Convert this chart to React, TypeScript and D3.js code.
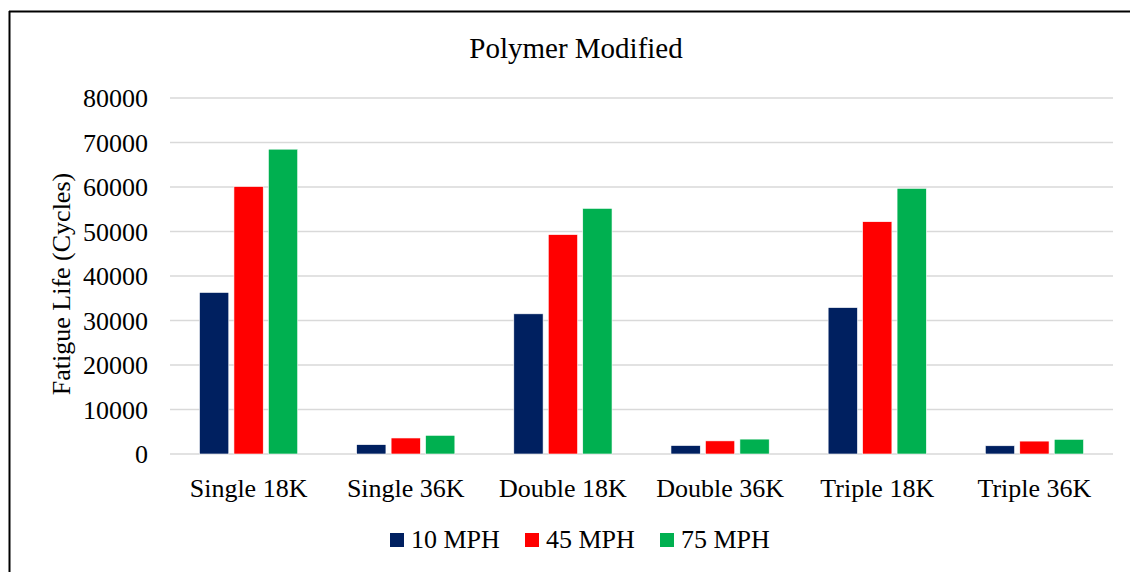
import * as d3 from 'd3';

const categories = ['Single 18K', 'Single 36K', 'Double 18K', 'Double 36K', 'Triple 18K', 'Triple 36K'];
const seriesNames = ['10 MPH', '45 MPH', '75 MPH'];
const seriesColors = ['#002060', '#ff0000', '#00b050'];
const mph10 = [36300, 2100, 31500, 1900, 32900, 1850];
const mph45 = [60100, 3600, 49300, 2950, 52200, 2900];
const mph75 = [68500, 4200, 55200, 3350, 59700, 3300];
const yTicks = [0, 10000, 20000, 30000, 40000, 50000, 60000, 70000, 80000];

const W = 1130;
const H = 572;
const font = '"Liberation Serif", "Times New Roman", serif';

export default function App() {
  const series = [mph10, mph45, mph75];
  const margin = { left: 170, right: 17, top: 98, bottom: 118 };

  const x = d3.scaleBand()
    .domain(categories)
    .range([margin.left, W - margin.right])
    .paddingInner(0)
    .paddingOuter(0);
  const y = d3.scaleLinear()
    .domain([0, 80000])
    .range([H - margin.bottom, margin.top]);

  const groupW = x.bandwidth() * 0.625;
  const inner = d3.scaleBand()
    .domain(seriesNames)
    .range([0, groupW])
    .paddingInner(0.15);

  const legendX = [390, 525, 660];

  return (
    <svg width={W} height={H} style={{ position: 'absolute', left: 0, top: 0, background: '#fff' }}>
      <rect x={0} y={0} width={W} height={H} fill="#fff" />
      <line x1={9} y1={11.5} x2={W} y2={11.5} stroke="#000" strokeWidth={2} />
      <line x1={9.5} y1={11} x2={9.5} y2={H} stroke="#000" strokeWidth={2} />

      <text x={576} y={58} textAnchor="middle"
        fontFamily={font} fontSize={29} fill="#000">Polymer Modified</text>

      {yTicks.map(t => (
        <g key={t}>
          <line x1={margin.left} x2={W - margin.right} y1={y(t)} y2={y(t)}
            stroke="#d9d9d9" strokeWidth={1.5} />
          <text x={148} y={y(t)} dy="0.35em" textAnchor="end"
            fontFamily={font} fontSize={26} fill="#000">{t}</text>
        </g>
      ))}

      <text transform={`translate(70,${(margin.top + H - margin.bottom) / 2 + 8}) rotate(-90)`}
        textAnchor="middle" fontFamily={font} fontSize={26} fill="#000">Fatigue Life (Cycles)</text>

      {categories.map((c, i) => {
        const gx = (x(c) as number) + (x.bandwidth() - groupW) / 2;
        return (
          <g key={c}>
            {series.map((s, j) => (
              <rect key={j}
                x={gx + (inner(seriesNames[j]) as number)}
                y={y(s[i])}
                width={inner.bandwidth()}
                height={y(0) - y(s[i])}
                fill={seriesColors[j]}
                stroke="#fff" strokeWidth={0.6} />
            ))}
            <text x={(x(c) as number) + x.bandwidth() / 2} y={497} textAnchor="middle"
              fontFamily={font} fontSize={26} fill="#000">{c}</text>
          </g>
        );
      })}

      {seriesNames.map((n, j) => (
        <g key={n}>
          <rect x={legendX[j]} y={533} width={14} height={14} fill={seriesColors[j]} />
          <text x={legendX[j] + 21} y={548} fontFamily={font} fontSize={26} fill="#000">{n}</text>
        </g>
      ))}
    </svg>
  );
}
